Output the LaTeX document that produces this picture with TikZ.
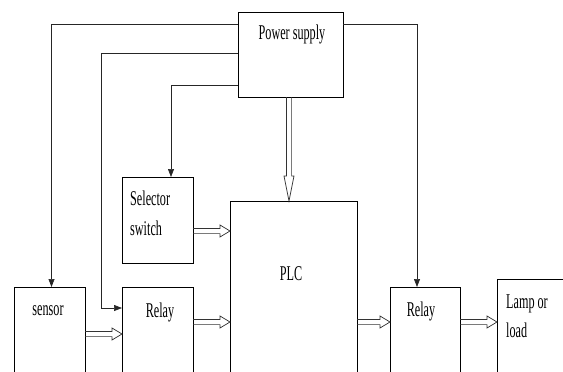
\documentclass[tikz,border=0pt]{standalone}
\usepackage{fontspec}
\setmainfont[FakeStretch=0.58]{Liberation Serif}
\usetikzlibrary{arrows.meta,calc}
\tikzset{
  box/.style={draw=black, line width=0.9pt, inner sep=0pt, outer sep=0pt, anchor=north west},
  txt/.style={inner sep=0pt, font=\fontsize{21}{24}\selectfont},
  conn/.style={draw=black!85, line width=0.7pt},
  tip/.style={-{Triangle[length=8pt,width=6pt]}},
  hollowR/.style={draw=black!80, line width=0.7pt, to path={
    let \p1=(\tikztostart), \p2=(\tikztotarget) in
    (\x1,{\y1+2.6pt}) -- ({\x2-10pt},{\y1+2.6pt}) -- ({\x2-10pt},{\y1+6pt}) -- (\x2,\y1)
    -- ({\x2-10pt},{\y1-6pt}) -- ({\x2-10pt},{\y1-2.6pt}) -- (\x1,{\y1-2.6pt})}},
  hollowD/.style={draw=black!80, line width=0.7pt, to path={
    let \p1=(\tikztostart), \p2=(\tikztotarget) in
    ({\x1-2.6pt},\y1) -- ({\x1-2.6pt},{\y2+25pt}) -- ({\x1-5pt},{\y2+25pt}) -- (\x1,\y2)
    -- ({\x1+5pt},{\y2+25pt}) -- ({\x1+2.6pt},{\y2+25pt}) -- ({\x1+2.6pt},\y1)}}
}
\begin{document}
\begin{tikzpicture}[x=1pt,y=-1pt]
\useasboundingbox (0,0) rectangle (563,372);
\clip (0,0) rectangle (563,372);
% boxes
\node[box, minimum width=105pt, minimum height=85pt] (power) at (238,12) {};
\node[box, minimum width=71pt, minimum height=86pt] (selector) at (122,177) {};
\node[box, minimum width=127pt, minimum height=200pt] (plc) at (230,201) {};
\node[box, minimum width=71pt, minimum height=120pt] (sensor) at (14,287) {};
\node[box, minimum width=71pt, minimum height=120pt] (relay1) at (122,287) {};
\node[box, minimum width=70pt, minimum height=120pt] (relay2) at (390,287) {};
\node[box, minimum width=120pt, minimum height=130pt] (lamp) at (497,279) {};
% texts
\node[txt, anchor=base] (tpower) at (292,39) {Power supply};
\node[txt, anchor=base west] (tsel1) at (130,205) {Selector};
\node[txt, anchor=base west] (tsel2) at (130,235) {switch};
\node[txt, anchor=base] (tplc) at (291,280) {PLC};
\node[txt, anchor=base] (tsensor) at (48,315) {sensor};
\node[txt, anchor=base] (trelay1) at (160,317) {Relay};
\node[txt, anchor=base] (trelay2) at (421,316) {Relay};
\node[txt, anchor=base west] (tlamp1) at (506,308) {Lamp or};
\node[txt, anchor=base west] (tlamp2) at (506,337) {load};
% supply lines
\draw[conn,tip] ([yshift=-12pt]power.north west) -| ([xshift=2pt]sensor.north);
\coordinate (bend2) at ($(relay1.north west)+(-21,21)$);
\draw[conn,tip] ([yshift=-41pt]power.north west) -| (bend2) -- ([yshift=-21pt]relay1.north west);
\draw[conn,tip] ([yshift=-73pt]power.north west) -| ([xshift=13.5pt]selector.north);
\draw[conn,tip] ([yshift=-12pt]power.north east) -| ([xshift=-8pt]relay2.north);
% hollow arrows
\draw[hollowD] ([xshift=-1.5pt]power.south) to ([xshift=-4.5pt]plc.north);
\draw[hollowR] ([yshift=-54pt]selector.north east) to ([yshift=-30pt]plc.north west);
\draw[hollowR] ([yshift=-47pt]sensor.north east) to ([yshift=-47pt]relay1.north west);
\draw[hollowR] ([yshift=-35pt]relay1.north east) to ([yshift=-121pt]plc.north west);
\draw[hollowR] ([yshift=-121pt]plc.north east) to ([yshift=-35pt]relay2.north west);
\draw[hollowR] ([yshift=-35pt]relay2.north east) to ([yshift=-43pt]lamp.north west);
\end{tikzpicture}
\end{document}
